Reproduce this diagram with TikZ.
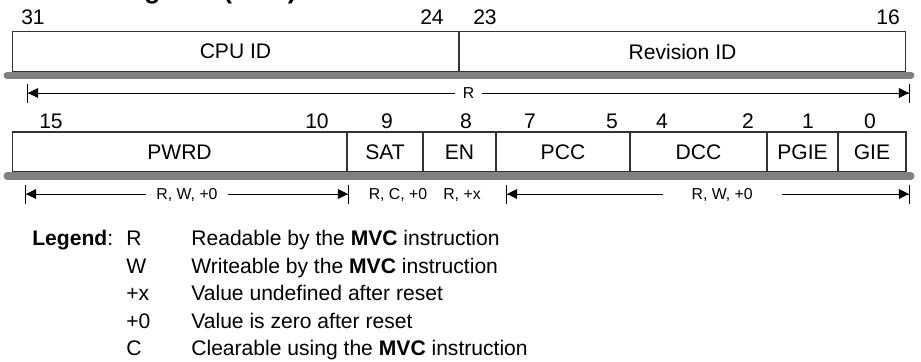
\documentclass[tikz,border=0pt]{standalone}
\usepackage{fontspec}
\setmainfont{Liberation Sans}
\usetikzlibrary{arrows.meta,calc}

\begin{document}
\begin{tikzpicture}[x=0.02cm, y=-0.02cm,
    field/.style={draw=black!80, line width=0.6pt, outer sep=0pt, inner sep=0pt, minimum height=0.79cm, font=\fontsize{12}{14}\selectfont},
    bitnum/.style={inner sep=0pt, font=\fontsize{12}{14}\selectfont},
    access/.style={inner sep=0pt, text depth=0pt, font=\fontsize{9}{11}\selectfont},
    shade/.style={line width=4pt, line cap=round, draw=black!50},
    span/.style={{Bar[width=0.38cm,line width=0.7pt]Triangle[length=0.2cm,width=0.2cm]}-{Triangle[length=0.2cm,width=0.2cm]Bar[width=0.38cm,line width=0.7pt]}, line width=0.5pt},
    legend/.style={anchor=base west, inner sep=0pt, font=\fontsize{12}{14}\selectfont}
  ]
    \useasboundingbox (0,0) rectangle (921,362);
    \node[anchor=base east, inner sep=0pt, font=\bfseries\fontsize{15}{18}\selectfont] (title) at (297,-1.6) {Control Status Register (CSR)};

    % upper half word
    \node[bitnum] (b31) at (33,17) {31};
    \node[bitnum] (b24) at (432,17) {24};
    \node[bitnum] (b23) at (485,17) {23};
    \node[bitnum] (b16) at (888,17) {16};
    \node[field, minimum width=8.94cm] (cpuid) at (235.5,51.5) {CPU ID};
    \node[field, minimum width=8.94cm] (revid) at (682.5,51.5) {Revision ID};
    \draw[shade] ($(cpuid.south west)+(-5,4)$) -- ($(revid.south east)+(5,4)$);
    \coordinate (hil) at (27,93);
    \coordinate (hir) at (910,93);
    \draw[span] (hil) -- node[access, fill=white, inner xsep=0.16cm] (rhi) {R} (hir);

    % lower half word
    \node[bitnum] (b15) at (51,121) {15};
    \node[bitnum] (b10) at (317,121) {10};
    \node[bitnum] (b9) at (387,121) {9};
    \node[bitnum] (b8) at (466,121) {8};
    \node[bitnum] (b7) at (530,121) {7};
    \node[bitnum] (b5) at (612,121) {5};
    \node[bitnum] (b4) at (662,121) {4};
    \node[bitnum] (b2) at (748,121) {2};
    \node[bitnum] (b1) at (808,121) {1};
    \node[bitnum] (b0) at (870,121) {0};
    \node[field, minimum width=6.7cm, minimum height=0.8cm] (pwrd) at (179.5,152) {PWRD};
    \node[field, minimum width=1.52cm, minimum height=0.8cm] (sat) at (385,152) {SAT};
    \node[field, minimum width=1.46cm, minimum height=0.8cm] (en) at (459.5,152) {EN};
    \node[field, minimum width=2.68cm, minimum height=0.8cm] (pcc) at (563,152) {PCC};
    \node[field, minimum width=2.74cm, minimum height=0.8cm] (dcc) at (698.5,152) {DCC};
    \node[field, minimum width=1.42cm, minimum height=0.8cm] (pgie) at (802.5,152) {PGIE};
    \node[field, minimum width=1.36cm, minimum height=0.8cm] (gie) at (872,152) {GIE};
    \draw[shade] ($(pwrd.south west)+(-5,4)$) -- ($(gie.south east)+(5,4)$);
    \coordinate (pwl) at (25,194);
    \coordinate (pwr) at (349,194);
    \draw[span] (pwl) -- node[access, fill=white, inner xsep=0.2cm] (rwpw) {R, W, +0} (pwr);
    \node[access] (rcsat) at (398,194) {R, C, +0};
    \node[access] (rxen) at (462,194) {R, +x};
    \coordinate (ccl) at (506,194);
    \coordinate (ccr) at (910,194);
    \draw[span] (ccl) -- node[access, fill=white, inner xsep=0.58cm, pos=0.535] (rwcc) {R, W, +0} (ccr);

    % legend
    \node[legend] (leg) at (32,245.5) {\textbf{Legend}:};
    \node[legend] (kr) at (126,245.5) {R};
    \node[legend] (kw) at (126,273) {W};
    \node[legend] (kx) at (126,300.5) {+x};
    \node[legend] (kz) at (126,328) {+0};
    \node[legend] (kc) at (126,355.5) {C};
    \node[legend] (dr) at (191,245.5) {Readable by the \textbf{MVC} instruction};
    \node[legend] (dw) at (191,273) {Writeable by the \textbf{MVC} instruction};
    \node[legend] (dx) at (191,300.5) {Value undefined after reset};
    \node[legend] (dz) at (191,328) {Value is zero after reset};
    \node[legend] (dc) at (191,355.5) {Clearable using the \textbf{MVC} instruction};
  \end{tikzpicture}
\end{document}
